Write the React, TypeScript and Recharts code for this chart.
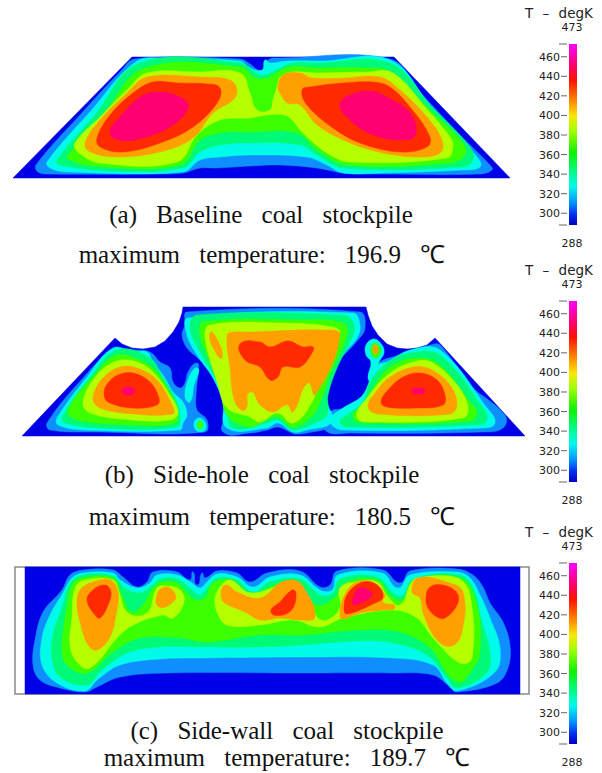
import { Bar, BarChart, Scatter, ScatterChart, XAxis, YAxis } from "recharts";

type Pt = [number, number];
type Layer = { pts: Pt[]; color: string; sharp?: boolean; edge?: string };

// contour level colours
const NAVY = "#0000e6";
const AZURE = "#0f8fff";
const CYAN = "#00fce8";
const SPRING = "#00fa78";
const LIME = "#3cff00";
const YELLOW = "#b6ff00";
const ORANGE = "#ffa000";
const RED = "#ff2a00";
const PINK = "#ff0070";

// colour bar
const rampStops = [
  ["0%", "#ff00ff"],
  ["9%", "#ff0090"],
  ["20%", "#ff1000"],
  ["32%", "#ff9000"],
  ["40%", "#f8e800"],
  ["48%", "#a0ff00"],
  ["60%", "#10f000"],
  ["70%", "#00ff80"],
  ["79%", "#00f8f0"],
  ["88%", "#0090ff"],
  ["94%", "#0030f0"],
  ["100%", "#0000c0"],
];
const tempTicks = [288, 300, 320, 340, 360, 380, 400, 420, 440, 460, 473];
const tempRange = [{ name: "T", range: [288, 473] }];

const aPile: Pt[] = [[13, 178], [132, 57], [394, 57], [510, 178]];
const aAzure: Pt[] = [[135, 59], [240, 59], [250, 64], [258, 70], [265, 70], [268, 60], [280, 58], [390, 59], [420, 92], [460, 135], [490, 165], [492, 170], [480, 174], [380, 174], [343, 173], [317, 168], [280, 165], [250, 166], [217, 168], [200, 168], [183, 173], [150, 174], [50, 174], [38, 172], [36, 165], [80, 115], [120, 72]];
const aCyan: Pt[] = [[137, 61], [167, 59], [240, 61], [250, 68], [262, 70], [265, 60], [270, 63], [287, 61], [323, 61], [390, 60], [430, 105], [478, 158], [480, 167], [463, 170], [383, 173], [343, 173], [327, 165], [307, 157], [250, 155], [220, 157], [200, 160], [183, 172], [67, 172], [50, 168], [47, 162], [90, 112]];
const aSpring: Pt[] = [[140, 63], [240, 63], [260, 75], [270, 73], [280, 68], [293, 63], [317, 63], [390, 63], [430, 105], [470, 147], [473, 160], [463, 167], [343, 168], [317, 155], [300, 145], [250, 143], [220, 145], [200, 152], [183, 168], [110, 171], [60, 165], [57, 160], [95, 115]];
const aLime: Pt[] = [[145, 68], [240, 67], [255, 78], [268, 78], [273, 75], [290, 67], [317, 68], [367, 68], [390, 72], [430, 110], [463, 143], [465, 155], [450, 163], [347, 165], [317, 150], [297, 133], [250, 132], [220, 133], [200, 140], [180, 165], [93, 166], [67, 158], [70, 153], [105, 112]];
const aYellow: Pt[] = [[147, 73], [200, 72], [240, 73], [250, 93], [257, 110], [270, 110], [273, 100], [278, 83], [280, 77], [293, 72], [317, 73], [367, 72], [393, 73], [425, 107], [450, 137], [453, 147], [447, 158], [350, 162], [327, 153], [303, 133], [287, 116], [267, 115], [250, 118], [220, 120], [197, 135], [177, 162], [100, 163], [78, 152], [75, 143], [100, 117], [127, 90]];
const aOrangeL: Pt[] = [[147, 77], [200, 77], [230, 80], [237, 90], [233, 100], [213, 113], [193, 138], [160, 152], [117, 157], [90, 152], [85, 143], [100, 120], [127, 93]];
const aOrangeR: Pt[] = [[283, 75], [300, 73], [312, 78], [343, 78], [380, 77], [400, 90], [427, 117], [442, 140], [440, 153], [417, 157], [383, 153], [350, 143], [317, 125], [300, 105], [287, 103], [280, 93], [278, 87]];
const aRedL: Pt[] = [[153, 82], [177, 83], [207, 84], [220, 88], [217, 103], [193, 127], [160, 143], [123, 152], [100, 147], [97, 138], [110, 115], [133, 93]];
const aRedR: Pt[] = [[310, 87], [343, 83], [373, 82], [390, 87], [410, 107], [430, 137], [427, 147], [400, 152], [360, 143], [333, 128], [307, 105], [302, 90]];
const aPinkL: Pt[] = [[157, 92], [180, 97], [188, 107], [173, 125], [143, 138], [118, 140], [110, 132], [120, 117], [140, 97]];
const aPinkR: Pt[] = [[350, 95], [370, 91], [387, 97], [410, 113], [416, 133], [407, 140], [373, 135], [350, 120], [340, 105]];

// (b) side-hole pile
const bPile: Pt[] = [[22, 436], [115, 338], [122, 344], [132, 348], [143, 349], [155, 347], [165, 341], [173, 332], [179, 322], [182, 313], [183, 307], [366, 307], [368, 315], [372, 326], [378, 335], [387, 344], [397, 348], [407, 349], [417, 348], [427, 345], [435, 338], [525, 436]];
const bLeftAzure: Pt[] = [[47, 423], [83, 378], [113, 350], [133, 350], [150, 352], [160, 362], [170, 368], [173, 382], [180, 388], [185, 383], [188, 372], [197, 363], [198, 372], [196, 395], [197, 410], [207, 420], [205, 432], [100, 432], [50, 430]];
const bCenterAzure: Pt[] = [[187, 312], [360, 312], [365, 328], [358, 340], [330, 372], [325, 395], [330, 418], [332, 426], [307, 433], [295, 434], [290, 432], [278, 427], [267, 430], [250, 433], [223, 432], [227, 412], [220, 392], [210, 372], [200, 360], [187, 348], [182, 335], [185, 325]];
const bRightAzure: Pt[] = [[330, 412], [345, 408], [362, 396], [372, 375], [380, 362], [400, 355], [430, 345], [440, 345], [470, 385], [505, 415], [503, 428], [483, 432], [350, 433], [325, 430]];
const bKnobAzure: Pt[] = [[374, 339], [382, 345], [384, 353], [379, 362], [376, 372], [372, 382], [368, 378], [371, 362], [366, 355], [366, 345]];
const bLeftCyan: Pt[] = [[57, 418], [87, 377], [113, 348], [133, 352], [147, 352], [153, 362], [163, 375], [173, 392], [183, 402], [187, 415], [183, 423], [180, 430], [83, 430], [58, 425]];
const bLeftSpring: Pt[] = [[62, 417], [90, 378], [117, 350], [150, 358], [163, 378], [177, 402], [180, 415], [177, 427], [100, 428], [65, 423]];
const bLeftLime: Pt[] = [[68, 410], [97, 372], [117, 355], [140, 360], [157, 372], [173, 398], [178, 412], [175, 423], [133, 425], [77, 420]];
const bLeftYellow: Pt[] = [[83, 402], [97, 375], [117, 361], [137, 362], [153, 372], [170, 395], [178, 413], [170, 420], [133, 420], [90, 413]];
const bLeftOrange: Pt[] = [[93, 398], [103, 378], [120, 367], [137, 368], [157, 380], [173, 407], [173, 414], [133, 414], [100, 408]];
const bLeftRed: Pt[] = [[104, 393], [108, 383], [118, 375], [133, 373], [150, 382], [159, 398], [157, 405], [133, 408], [108, 402]];
const bLeftPink: Pt[] = [[122, 391], [128, 387], [135, 391], [128, 395]];
const bStripCyan: Pt[] = [[185, 397], [188, 380], [195, 368], [199, 370], [194, 385], [190, 402]];
const bDotCyan: Pt[] = [[194, 423], [199, 418], [205, 422], [205, 430], [197, 431]];
const bDotLime: Pt[] = [[197, 425], [200, 421], [203, 425], [200, 429]];
const bRightCyan: Pt[] = [[330, 423], [332, 416], [343, 408], [363, 395], [372, 375], [378, 365], [387, 362], [410, 350], [440, 350], [487, 408], [495, 423], [483, 428], [343, 430]];
const bRightSpring: Pt[] = [[340, 422], [347, 415], [363, 402], [370, 382], [387, 363], [410, 353], [440, 355], [483, 408], [487, 420], [477, 425], [350, 427]];
const bRightLime: Pt[] = [[353, 417], [363, 405], [373, 388], [390, 367], [417, 358], [440, 365], [470, 402], [477, 413], [470, 421], [367, 423]];
const bRightYellow: Pt[] = [[357, 417], [367, 398], [390, 373], [417, 361], [433, 363], [457, 385], [468, 407], [463, 418], [373, 422]];
const bRightOrange: Pt[] = [[368, 407], [375, 393], [390, 377], [413, 367], [430, 369], [450, 385], [457, 405], [450, 414], [378, 414]];
const bRightRed: Pt[] = [[381, 402], [388, 390], [403, 377], [420, 373], [437, 380], [445, 395], [443, 405], [417, 408], [387, 407]];
const bRightPink: Pt[] = [[412, 391], [418, 388], [425, 391], [418, 394]];
const bCenterCyan: Pt[] = [[188, 318], [353, 313], [360, 325], [357, 338], [340, 358], [325, 388], [328, 405], [332, 422], [307, 430], [293, 432], [278, 423], [267, 428], [227, 428], [223, 402], [213, 378], [197, 355], [187, 335]];
const bCenterSpring: Pt[] = [[197, 315], [343, 315], [353, 322], [353, 335], [337, 368], [328, 395], [327, 415], [317, 422], [293, 430], [278, 420], [267, 423], [233, 428], [227, 408], [217, 382], [200, 352], [190, 328]];
const bCenterLime: Pt[] = [[203, 322], [300, 320], [343, 323], [347, 335], [330, 375], [323, 395], [313, 415], [293, 427], [278, 417], [267, 420], [250, 427], [227, 415], [220, 385], [207, 355], [200, 335]];
const bCenterYellow: Pt[] = [[210, 325], [283, 323], [333, 327], [340, 333], [320, 378], [312, 402], [293, 423], [278, 413], [260, 422], [250, 417], [227, 408], [218, 385], [205, 337]];
const bCenterOrange: Pt[] = [[233, 332], [250, 332], [323, 330], [340, 335], [315, 395], [308, 383], [293, 412], [287, 405], [273, 412], [260, 405], [250, 392], [245, 410], [235, 402], [230, 368], [227, 335]];
const bSideOrange: Pt[] = [[210, 333], [220, 345], [222, 358], [217, 355]];
const bCenterRed: Pt[] = [[240, 344], [260, 342], [270, 347], [288, 341], [303, 347], [313, 347], [312, 353], [300, 367], [283, 367], [278, 377], [270, 380], [260, 367], [245, 360]];
const bKnobLime: Pt[] = [[375, 343], [380, 347], [380, 354], [375, 358], [371, 353], [371, 347]];
const bKnobYellow: Pt[] = [[375, 345], [378, 349], [376, 354], [373, 350]];

// (c) side-wall pile
const cFrame: Pt[] = [[15, 567], [529, 567], [529, 694], [15, 694]];
const cField: Pt[] = [[25, 567], [520, 567], [520, 694], [25, 694]];
const cAzure: Pt[] = [[33, 665], [35, 640], [43, 612], [62, 590], [70, 575], [83, 570], [113, 570], [123, 577], [137, 587], [147, 582], [153, 572], [177, 572], [190, 580], [193, 572], [197, 585], [202, 573], [205, 578], [217, 571], [237, 573], [250, 582], [267, 573], [300, 571], [320, 587], [330, 585], [337, 571], [383, 570], [400, 583], [410, 571], [457, 569], [473, 575], [483, 587], [490, 603], [503, 622], [510, 645], [508, 668], [497, 683], [457, 692], [450, 687], [433, 675], [393, 673], [303, 673], [167, 673], [120, 677], [97, 687], [85, 692], [60, 688], [40, 680]];
const cCyan: Pt[] = [[42, 665], [42, 638], [50, 615], [63, 593], [72, 578], [83, 573], [113, 573], [120, 580], [137, 588], [150, 583], [157, 575], [177, 575], [192, 583], [200, 588], [207, 582], [217, 574], [237, 577], [253, 587], [270, 577], [300, 575], [320, 590], [332, 590], [338, 575], [382, 573], [398, 588], [410, 575], [457, 572], [470, 578], [480, 595], [490, 618], [500, 648], [495, 672], [457, 691], [447, 683], [433, 665], [393, 658], [303, 657], [200, 658], [160, 659], [120, 665], [97, 680], [85, 691], [57, 683]];
const cSpring: Pt[] = [[52, 658], [53, 635], [63, 605], [68, 587], [80, 576], [113, 576], [125, 588], [140, 593], [153, 585], [160, 579], [177, 579], [192, 590], [200, 595], [208, 587], [217, 578], [237, 580], [253, 592], [270, 582], [300, 579], [320, 595], [333, 593], [340, 579], [377, 577], [393, 593], [403, 595], [413, 579], [460, 575], [473, 588], [482, 622], [490, 652], [487, 672], [457, 688], [447, 678], [427, 655], [393, 643], [357, 641], [303, 645], [260, 647], [200, 647], [160, 647], [127, 653], [100, 672], [87, 685], [60, 677]];
const cLime: Pt[] = [[62, 652], [63, 632], [68, 602], [73, 583], [83, 578], [113, 578], [122, 595], [132, 612], [143, 605], [153, 588], [163, 582], [177, 583], [187, 593], [195, 600], [205, 598], [213, 583], [233, 581], [253, 597], [270, 587], [297, 582], [317, 605], [337, 595], [347, 582], [377, 580], [392, 597], [403, 600], [412, 582], [460, 578], [477, 605], [480, 652], [473, 668], [457, 682], [430, 648], [400, 632], [357, 630], [303, 635], [260, 635], [207, 642], [180, 638], [140, 638], [113, 652], [87, 673], [67, 665]];
const cYellowL: Pt[] = [[70, 645], [72, 618], [75, 588], [85, 580], [113, 580], [119, 592], [128, 613], [147, 613], [157, 588], [167, 586], [180, 590], [184, 602], [173, 618], [163, 615], [133, 625], [117, 638], [90, 668], [77, 662]];
const cYellowR: Pt[] = [[215, 598], [220, 587], [230, 580], [247, 592], [260, 592], [290, 583], [303, 590], [317, 617], [327, 620], [340, 608], [340, 588], [357, 582], [377, 582], [388, 597], [400, 605], [410, 585], [417, 578], [457, 578], [470, 595], [472, 658], [460, 663], [433, 638], [417, 618], [393, 610], [343, 618], [320, 627], [293, 620], [260, 625], [227, 625], [217, 612]];
const cOrange1: Pt[] = [[77, 605], [80, 622], [88, 645], [97, 650], [110, 637], [116, 615], [118, 592], [110, 580], [93, 582], [80, 590]];
const cRed1: Pt[] = [[87, 600], [95, 615], [100, 618], [108, 605], [111, 592], [105, 585], [93, 590]];
const cOrange2: Pt[] = [[158, 592], [159, 607], [175, 600], [174, 592], [167, 587]];
const cOrange3: Pt[] = [[222, 588], [227, 585], [237, 592], [260, 598], [280, 583], [293, 580], [302, 585], [315, 617], [300, 620], [280, 618], [260, 620], [245, 612], [228, 605], [222, 600]];
const cRed2: Pt[] = [[271, 612], [283, 615], [293, 608], [296, 593], [292, 590], [280, 602]];
const cOrange4: Pt[] = [[340, 613], [343, 598], [355, 583], [373, 582], [385, 595], [383, 602], [395, 607], [383, 610], [360, 613], [342, 619]];
const cRed3: Pt[] = [[344, 608], [348, 593], [363, 582], [377, 585], [383, 597], [375, 603], [347, 614]];
const cPink3: Pt[] = [[352, 602], [360, 588], [372, 593], [370, 598], [355, 605]];
const cOrange5: Pt[] = [[412, 592], [418, 578], [447, 582], [463, 592], [462, 632], [452, 646], [437, 640], [423, 613], [420, 598]];
const cRed5: Pt[] = [[426, 598], [430, 587], [443, 585], [457, 593], [457, 605], [445, 618], [437, 617], [428, 608]];

const panelA: Layer[] = [
  { pts: aPile, color: NAVY, sharp: true },
  { pts: aAzure, color: AZURE },
  { pts: aCyan, color: CYAN },
  { pts: aSpring, color: SPRING },
  { pts: aLime, color: LIME },
  { pts: aYellow, color: YELLOW },
  { pts: aOrangeL, color: ORANGE },
  { pts: aOrangeR, color: ORANGE },
  { pts: aRedL, color: RED },
  { pts: aRedR, color: RED },
  { pts: aPinkL, color: PINK },
  { pts: aPinkR, color: PINK },
];

const panelB: Layer[] = [
  { pts: bPile, color: NAVY, sharp: true },
  { pts: bLeftAzure, color: AZURE },
  { pts: bCenterAzure, color: AZURE },
  { pts: bRightAzure, color: AZURE },
  { pts: bKnobAzure, color: CYAN },
  { pts: bLeftCyan, color: CYAN },
  { pts: bStripCyan, color: CYAN },
  { pts: bDotCyan, color: CYAN },
  { pts: bRightCyan, color: CYAN },
  { pts: bCenterCyan, color: CYAN },
  { pts: bLeftSpring, color: SPRING },
  { pts: bRightSpring, color: SPRING },
  { pts: bCenterSpring, color: SPRING },
  { pts: bDotLime, color: LIME },
  { pts: bLeftLime, color: LIME },
  { pts: bRightLime, color: LIME },
  { pts: bCenterLime, color: LIME },
  { pts: bKnobLime, color: LIME },
  { pts: bLeftYellow, color: YELLOW },
  { pts: bRightYellow, color: YELLOW },
  { pts: bCenterYellow, color: YELLOW },
  { pts: bKnobYellow, color: ORANGE },
  { pts: bLeftOrange, color: ORANGE },
  { pts: bRightOrange, color: ORANGE },
  { pts: bCenterOrange, color: ORANGE },
  { pts: bSideOrange, color: ORANGE },
  { pts: bLeftRed, color: RED },
  { pts: bRightRed, color: RED },
  { pts: bCenterRed, color: RED },
  { pts: bLeftPink, color: PINK },
  { pts: bRightPink, color: PINK },
];

const panelC: Layer[] = [
  { pts: cFrame, color: "#ffffff", sharp: true, edge: "#8a8a8a" },
  { pts: cField, color: NAVY, sharp: true },
  { pts: cAzure, color: AZURE },
  { pts: cCyan, color: CYAN },
  { pts: cSpring, color: SPRING },
  { pts: cLime, color: LIME },
  { pts: cYellowL, color: YELLOW },
  { pts: cYellowR, color: YELLOW },
  { pts: cOrange1, color: ORANGE },
  { pts: cOrange2, color: ORANGE },
  { pts: cOrange3, color: ORANGE },
  { pts: cOrange4, color: ORANGE },
  { pts: cOrange5, color: ORANGE },
  { pts: cRed1, color: RED },
  { pts: cRed2, color: RED },
  { pts: cRed3, color: RED },
  { pts: cRed5, color: RED },
  { pts: cPink3, color: PINK },
];

const noMark = () => <g />;

// closed curve through every point; basisClosed pulled the contours inward
const throughPoints = (ctx: any) => {
  let ps: Pt[] = [];
  return {
    areaStart() {},
    areaEnd() {},
    lineStart() {
      ps = [];
    },
    point(x: number, y: number) {
      ps.push([+x, +y]);
    },
    lineEnd() {
      const n = ps.length;
      const handle = (a: Pt, b: Pt, c: Pt, len: number): Pt => {
        const dx = c[0] - a[0];
        const dy = c[1] - a[1];
        const d = Math.hypot(dx, dy) || 1;
        return [b[0] + (dx / d) * len, b[1] + (dy / d) * len];
      };
      ctx.moveTo(ps[0][0], ps[0][1]);
      for (let i = 0; i < n; i++) {
        const p0 = ps[(i + n - 1) % n];
        const p1 = ps[i];
        const p2 = ps[(i + 1) % n];
        const p3 = ps[(i + 2) % n];
        const len = Math.hypot(p2[0] - p1[0], p2[1] - p1[1]) * 0.36;
        const c1 = handle(p0, p1, p2, len);
        const c2 = handle(p3, p2, p1, len);
        ctx.bezierCurveTo(c1[0], c1[1], c2[0], c2[1], p2[0], p2[1]);
      }
      ctx.closePath();
    },
  };
};

function ContourPanel({ layers, top, height }: { layers: Layer[]; top: number; height: number }) {
  return (
    <div style={{ position: "absolute", left: 0, top, filter: "blur(0.5px)" }}>
      <ScatterChart width={535} height={height} margin={{ top: 0, right: 0, bottom: 0, left: 0 }}>
        <XAxis type="number" dataKey="x" domain={[0, 535]} hide />
        <YAxis type="number" dataKey="y" domain={[top, top + height]} reversed hide />
        {layers.map((l, i) => (
          <Scatter
            key={i}
            data={l.pts.map(([x, y]) => ({ x, y }))}
            fill={l.color}
            shape={noMark}
            line={{ fill: l.color, stroke: l.edge ?? l.color, strokeWidth: l.edge ? 1.5 : 0.5 }}
            lineJointType={(l.sharp ? "linearClosed" : throughPoints) as any}
            isAnimationActive={false}
          />
        ))}
      </ScatterChart>
    </div>
  );
}

function TempTick({ x, y, payload }: any) {
  const v = payload.value;
  const isEnd = v === 288 || v === 473;
  return (
    <g>
      <line x1={isEnd ? x - 2 : x} x2={x + 6} y1={y} y2={y} stroke="#666" />
      <text
        x={isEnd ? x + 11 : x - 1}
        y={y + (v === 473 ? -17 : v === 288 ? 18 : 0)}
        dy={4}
        textAnchor={isEnd ? "middle" : "end"}
        fontFamily="DejaVu Sans"
        fontSize={11}
        fill="#222"
      >
        {v}
      </text>
    </g>
  );
}

function ColorBar({ id, barTop, barHeight }: { id: string; barTop: number; barHeight: number }) {
  return (
    <div style={{ position: "absolute", left: 522, top: barTop - 44 }}>
      <BarChart
        width={80}
        height={barHeight + 74}
        data={tempRange}
        barCategoryGap={0}
        margin={{ top: 44, right: 25, bottom: 30, left: 0 }}
      >
        <defs>
          <linearGradient id={id} x1="0" y1="0" x2="0" y2="1">
            {rampStops.map(([offset, color]) => (
              <stop key={offset} offset={offset} stopColor={color} />
            ))}
          </linearGradient>
        </defs>
        <XAxis dataKey="name" hide />
        <YAxis
          type="number"
          domain={[288, 473]}
          ticks={tempTicks}
          interval={0}
          width={47}
          axisLine={false}
          tickLine={false}
          tick={TempTick}
        />
        <Bar dataKey="range" fill={`url(#${id})`} isAnimationActive={false} />
      </BarChart>
      <div
        style={{
          position: "absolute",
          left: 3,
          top: 5,
          width: 72,
          fontFamily: "DejaVu Sans",
          fontSize: 13.5,
          lineHeight: "16px",
          wordSpacing: 5,
          color: "#222",
          whiteSpace: "nowrap",
        }}
      >
        T – degK
      </div>
    </div>
  );
}

function Caption({ text, center, y }: { text: string; center: number; y: number }) {
  return (
    <div
      style={{
        position: "absolute",
        left: center - 260,
        width: 520,
        top: y - 16,
        height: 32,
        lineHeight: "32px",
        textAlign: "center",
        fontFamily: "Liberation Serif",
        fontSize: 25,
        wordSpacing: 13,
        color: "#111",
        whiteSpace: "nowrap",
      }}
    >
      {text}
    </div>
  );
}

export default function App() {
  return (
    <div style={{ position: "absolute", left: 0, top: 0, width: 602, height: 773, background: "#fff", overflow: "hidden" }}>
      <ContourPanel layers={panelA} top={50} height={135} />
      <ContourPanel layers={panelB} top={300} height={142} />
      <ContourPanel layers={panelC} top={560} height={140} />
      <ColorBar id="rampA" barTop={44} barHeight={181} />
      <ColorBar id="rampB" barTop={301} barHeight={181} />
      <ColorBar id="rampC" barTop={563} barHeight={181} />
      <Caption text="(a) Baseline coal stockpile" center={261} y={215} />
      <Caption text="maximum temperature: 196.9 ℃" center={262} y={255} />
      <Caption text="(b) Side-hole coal stockpile" center={262} y={475} />
      <Caption text="maximum temperature: 180.5 ℃" center={272} y={517} />
      <Caption text="(c) Side-wall coal stockpile" center={287} y={731} />
      <Caption text="maximum temperature: 189.7 ℃" center={287} y={758} />
    </div>
  );
}
